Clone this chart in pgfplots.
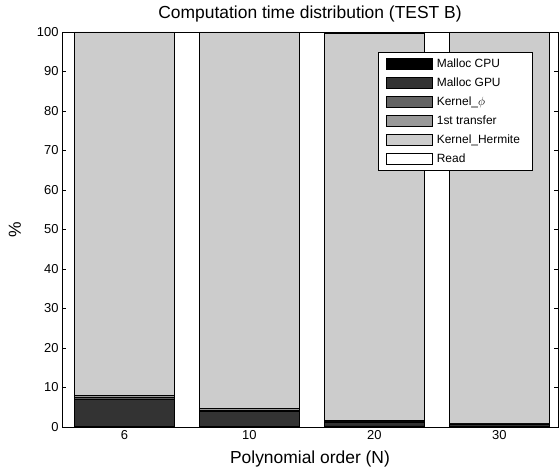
\documentclass[border=0pt]{standalone}
\usepackage{fontspec}
\setmainfont{Liberation Sans}
\usepackage{pgfplots}
\pgfplotsset{compat=1.18}
\definecolor{mcpu}{HTML}{000000}
\definecolor{mgpu}{HTML}{333333}
\definecolor{kphi}{HTML}{636363}
\definecolor{trans}{HTML}{999999}
\definecolor{kherm}{HTML}{CCCCCC}

\begin{document}
\begin{tikzpicture}
\begin{axis}[
    scale only axis, width=496bp, height=395bp,
    ybar stacked, bar width=0.8,
    xmin=0.5, xmax=4.47, ymin=0, ymax=100,
    xtick={1,2,3,4}, xticklabels={6,10,20,30},
    ytick={0,10,...,100},
    tick align=inside, major tick length=4bp,
    tick style={black, line width=0.6bp},
    tick label style={font=\fontsize{13}{15}\selectfont},
    /pgf/number format/assume math mode=true,
    axis line style={line width=0.6bp},
    title={Computation time distribution (TEST B)},
    title style={font=\fontsize{17.5}{20}\selectfont},
    xlabel={Polynomial order (N)}, ylabel={\%},
    label style={font=\fontsize{17.5}{20}\selectfont},
    xlabel shift=4bp, ylabel shift=9bp,
    legend style={at={(0.948,0.949)}, anchor=north east, draw=black,
        line width=0.6bp, font=\fontsize{12}{14}\selectfont,
        row sep=5bp, inner xsep=8bp, inner ysep=4bp,
        nodes={inner xsep=4bp}},
    legend cell align=left,
    legend image code/.code={\draw[#1, line width=0.6bp] (0bp,-5.5bp) rectangle (46bp,5.5bp);},
]
\addplot[fill=mcpu, draw=black, line width=0.5bp] coordinates {(1,0.1) (2,0.1) (3,0.3) (4,0.2)};
\addplot[fill=mgpu, draw=black, line width=0.5bp] coordinates {(1,7.0) (2,3.8) (3,1.0) (4,0.5)};
\addplot[fill=kphi, draw=black, line width=0.5bp] coordinates {(1,0.4) (2,0.4) (3,0.2) (4,0.1)};
\addplot[fill=trans, draw=black, line width=0.5bp] coordinates {(1,0.5) (2,0.5) (3,0.1) (4,0.1)};
\addplot[fill=kherm, draw=black, line width=0.5bp] coordinates {(1,92.0) (2,95.2) (3,98.1) (4,99.1)};
\addplot[fill=white, draw=black, line width=0.5bp] coordinates {(1,0.0) (2,0.0) (3,0.3) (4,0.0)};
\legend{Malloc CPU, Malloc GPU, Kernel\_$\phi$, 1st transfer, Kernel\_Hermite, Read}
\end{axis}
\pgfresetboundingbox
\path ([shift={(-62bp,-48bp)}]current axis.south west) rectangle ([shift={(1bp,32bp)}]current axis.north east);
\end{tikzpicture}
\end{document}
